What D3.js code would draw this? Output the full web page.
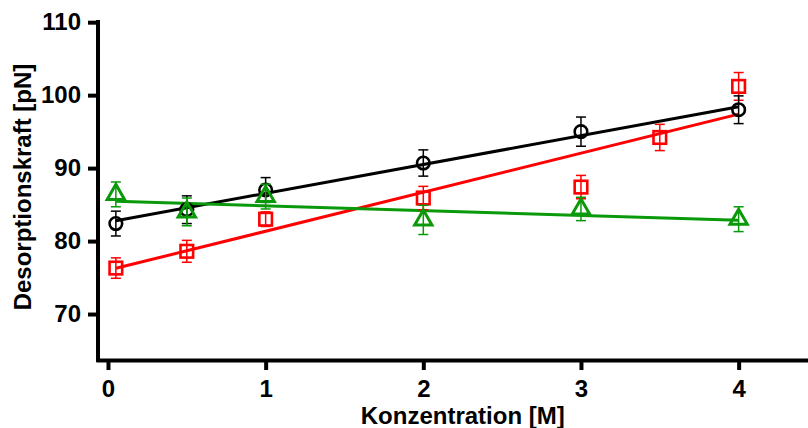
<!DOCTYPE html>
<html>
<head>
<meta charset="utf-8">
<script src="https://cdn.jsdelivr.net/npm/d3@7"></script>
<style>
  html, body { margin: 0; padding: 0; background: #fff; }
  svg { display: block; }
  text { font-family: "Liberation Sans", Arial, Helvetica, sans-serif; font-weight: bold; fill: #000; }
</style>
</head>
<body>
<svg id="chart" width="808" height="428"></svg>
<script>
// Concentrations (M)
const concBlack = [0.05, 0.5, 1, 2, 3, 4];
const concRed   = [0.05, 0.5, 1, 2, 3, 3.5, 4];
const concGreen = [0.05, 0.5, 1, 2, 3, 4];

// Desorption force means (pN) and standard deviations
const forceBlack = [82.4, 84.3, 87.0, 90.7, 95.0, 98.0];
const errBlack   = [1.7, 1.9, 1.7, 1.8, 2.0, 1.9];
const forceRed   = [76.3, 78.6, 83.0, 85.9, 87.4, 94.2, 101.2];
const errRed     = [1.4, 1.5, 1.0, 1.6, 1.6, 1.8, 1.9];
const forceGreen = [86.4, 84.0, 86.1, 82.9, 84.4, 83.0];
const errGreen   = [1.7, 1.9, 1.7, 2.0, 1.6, 1.7];

// Linear fits: force = intercept + slope * conc
const fitIntercept = [82.6, 76.0, 85.5];
const fitSlope     = [3.95, 5.35, -0.66];
const fitRange     = [0.05, 4];

const xTicks = [0, 1, 2, 3, 4];
const yTicks = [70, 80, 90, 100, 110];
const xTitle = "Konzentration [M]";
const yTitle = "Desorptionskraft [pN]";

const svg = d3.select("#chart");

const x = d3.scaleLinear().domain([-0.076, 4.44]).range([96, 808]);
const y = d3.scaleLinear().domain([63.7, 110.3]).range([360, 20]);

// Axes
const yAxis = svg.append("g")
  .attr("transform", `translate(${98},0)`)
  .call(d3.axisLeft(y).tickValues(yTicks).tickFormat(d3.format("d"))
    .tickSize(10).tickSizeOuter(0).tickPadding(7));
const xAxis = svg.append("g")
  .attr("transform", `translate(0,${360})`)
  .call(d3.axisBottom(x).tickValues(xTicks).tickFormat(d3.format("d"))
    .tickSize(10).tickSizeOuter(0).tickPadding(10));

[yAxis, xAxis].forEach(g => {
  g.select(".domain").attr("stroke", "#000").attr("stroke-width", 4);
  g.selectAll(".tick line").attr("stroke", "#000").attr("stroke-width", 4);
  g.selectAll(".tick text").style("font-size", "24px").attr("fill", "#000");
});
yAxis.select(".domain").attr("d", `M0,${20}V${362}`);

// Axis titles
svg.append("text")
  .attr("x", x(2.25)).attr("y", 424)
  .attr("text-anchor", "middle")
  .style("font-size", "24px")
  .text(xTitle);
svg.append("text")
  .attr("transform", `translate(31,${187}) rotate(-90)`)
  .attr("text-anchor", "middle")
  .style("font-size", "24px")
  .text(yTitle);

const series = [
  { conc: concBlack, force: forceBlack, err: errBlack, color: "#000000", shape: "circle" },
  { conc: concRed,   force: forceRed,   err: errRed,   color: "#ff0000", shape: "square" },
  { conc: concGreen, force: forceGreen, err: errGreen, color: "#0a990a", shape: "triangle" }
];

// Fit lines
series.forEach((s, i) => {
  svg.append("line")
    .attr("x1", x(fitRange[0])).attr("y1", y(fitIntercept[i] + fitSlope[i] * fitRange[0]))
    .attr("x2", x(fitRange[1])).attr("y2", y(fitIntercept[i] + fitSlope[i] * fitRange[1]))
    .attr("stroke", s.color).attr("stroke-width", 3);
});

// Error bars and markers
const cap = 5;
const drawSeries = s => {
  const pts = s.conc.map((c, j) => ({ c, f: s.force[j], e: s.err[j] }));
  const g = svg.append("g");
  const eb = g.selectAll(".eb").data(pts).enter().append("g")
    .attr("stroke", s.color).attr("stroke-width", 1.5).attr("fill", "none");
  eb.append("line").attr("x1", d => x(d.c)).attr("x2", d => x(d.c))
    .attr("y1", d => y(d.f + d.e)).attr("y2", d => y(d.f - d.e));
  eb.append("line").attr("x1", d => x(d.c) - cap).attr("x2", d => x(d.c) + cap)
    .attr("y1", d => y(d.f + d.e)).attr("y2", d => y(d.f + d.e));
  eb.append("line").attr("x1", d => x(d.c) - cap).attr("x2", d => x(d.c) + cap)
    .attr("y1", d => y(d.f - d.e)).attr("y2", d => y(d.f - d.e));

  const m = g.selectAll(".m").data(pts).enter();
  if (s.shape === "circle") {
    m.append("circle").attr("cx", d => x(d.c)).attr("cy", d => y(d.f)).attr("r", 6.3)
      .attr("fill", "none").attr("stroke", s.color).attr("stroke-width", 2.6);
  } else if (s.shape === "square") {
    m.append("rect").attr("x", d => x(d.c) - 6.3).attr("y", d => y(d.f) - 6.3)
      .attr("width", 12.6).attr("height", 12.6)
      .attr("fill", "none").attr("stroke", s.color).attr("stroke-width", 2.6);
  } else {
    const tri = d3.symbol().type(d3.symbolTriangle).size(130);
    m.append("path").attr("d", tri)
      .attr("transform", d => `translate(${x(d.c)},${y(d.f)})`)
      .attr("fill", "none").attr("stroke", s.color).attr("stroke-width", 3);
  }
};
// Draw order: red, black, green on top
drawSeries(series[1]);
drawSeries(series[0]);
drawSeries(series[2]);
</script>
</body>
</html>
